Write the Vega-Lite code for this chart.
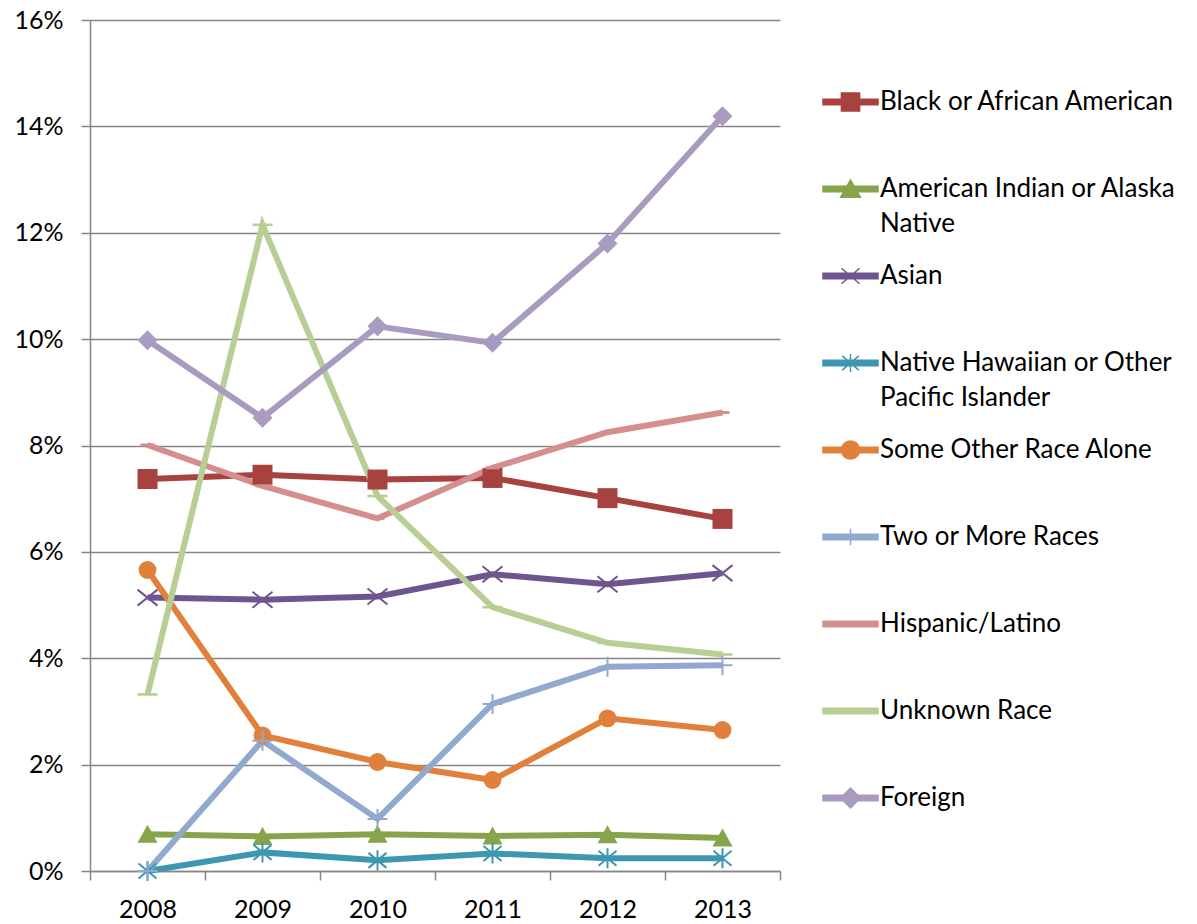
{
  "$schema": "https://vega.github.io/schema/vega-lite/v6.json",
  "autosize": "none",
  "width": 690,
  "height": 851,
  "padding": {"left": 90, "top": 20, "right": 417, "bottom": 53},
  "background": "white",
  "config": {
    "view": {"stroke": null},
    "font": "Lato",
    "axis": {"labelFont": "Lato", "labelFontSize": 25, "labelColor": "#000000", "domainColor": "#868686", "tickColor": "#868686", "gridColor": "#868686", "domainWidth": 1.5, "tickWidth": 1.5, "gridWidth": 1.5, "titleFontSize": 0}
  },
  "data": {
    "values": [
      {"year": "2008", "series": "Black or African American", "value": 0.0737},
      {"year": "2009", "series": "Black or African American", "value": 0.0745},
      {"year": "2010", "series": "Black or African American", "value": 0.0736},
      {"year": "2011", "series": "Black or African American", "value": 0.0739},
      {"year": "2012", "series": "Black or African American", "value": 0.0701},
      {"year": "2013", "series": "Black or African American", "value": 0.0662},
      {"year": "2008", "series": "American Indian or Alaska Native", "value": 0.0069},
      {"year": "2009", "series": "American Indian or Alaska Native", "value": 0.0065},
      {"year": "2010", "series": "American Indian or Alaska Native", "value": 0.0069},
      {"year": "2011", "series": "American Indian or Alaska Native", "value": 0.0066},
      {"year": "2012", "series": "American Indian or Alaska Native", "value": 0.0068},
      {"year": "2013", "series": "American Indian or Alaska Native", "value": 0.0062},
      {"year": "2008", "series": "Asian", "value": 0.0514},
      {"year": "2009", "series": "Asian", "value": 0.0510},
      {"year": "2010", "series": "Asian", "value": 0.0516},
      {"year": "2011", "series": "Asian", "value": 0.0558},
      {"year": "2012", "series": "Asian", "value": 0.0539},
      {"year": "2013", "series": "Asian", "value": 0.0560},
      {"year": "2008", "series": "Native Hawaiian or Other Pacific Islander", "value": 0.0},
      {"year": "2009", "series": "Native Hawaiian or Other Pacific Islander", "value": 0.0035},
      {"year": "2010", "series": "Native Hawaiian or Other Pacific Islander", "value": 0.0020},
      {"year": "2011", "series": "Native Hawaiian or Other Pacific Islander", "value": 0.0033},
      {"year": "2012", "series": "Native Hawaiian or Other Pacific Islander", "value": 0.0024},
      {"year": "2013", "series": "Native Hawaiian or Other Pacific Islander", "value": 0.0024},
      {"year": "2008", "series": "Some Other Race Alone", "value": 0.0566},
      {"year": "2009", "series": "Some Other Race Alone", "value": 0.0255},
      {"year": "2010", "series": "Some Other Race Alone", "value": 0.0205},
      {"year": "2011", "series": "Some Other Race Alone", "value": 0.0171},
      {"year": "2012", "series": "Some Other Race Alone", "value": 0.0287},
      {"year": "2013", "series": "Some Other Race Alone", "value": 0.0265},
      {"year": "2008", "series": "Two or More Races", "value": 0.0},
      {"year": "2009", "series": "Two or More Races", "value": 0.0245},
      {"year": "2010", "series": "Two or More Races", "value": 0.0098},
      {"year": "2011", "series": "Two or More Races", "value": 0.0314},
      {"year": "2012", "series": "Two or More Races", "value": 0.0384},
      {"year": "2013", "series": "Two or More Races", "value": 0.0387},
      {"year": "2008", "series": "Hispanic/Latino", "value": 0.0801},
      {"year": "2009", "series": "Hispanic/Latino", "value": 0.0724},
      {"year": "2010", "series": "Hispanic/Latino", "value": 0.0663},
      {"year": "2011", "series": "Hispanic/Latino", "value": 0.0758},
      {"year": "2012", "series": "Hispanic/Latino", "value": 0.0825},
      {"year": "2013", "series": "Hispanic/Latino", "value": 0.0862},
      {"year": "2008", "series": "Unknown Race", "value": 0.0332},
      {"year": "2009", "series": "Unknown Race", "value": 0.1215},
      {"year": "2010", "series": "Unknown Race", "value": 0.0705},
      {"year": "2011", "series": "Unknown Race", "value": 0.0496},
      {"year": "2012", "series": "Unknown Race", "value": 0.0429},
      {"year": "2013", "series": "Unknown Race", "value": 0.0407},
      {"year": "2008", "series": "Foreign", "value": 0.0998},
      {"year": "2009", "series": "Foreign", "value": 0.0852},
      {"year": "2010", "series": "Foreign", "value": 0.1024},
      {"year": "2011", "series": "Foreign", "value": 0.0993},
      {"year": "2012", "series": "Foreign", "value": 0.1180},
      {"year": "2013", "series": "Foreign", "value": 0.1419}
    ]
  },
  "encoding": {
    "x": {
      "field": "year", "type": "ordinal",
      "scale": {"type": "band", "paddingInner": 0, "paddingOuter": 0},
      "axis": {"title": null, "labelAngle": 0, "tickBand": "extent", "tickSize": 9, "labelPadding": 17, "labelBaseline": "top", "grid": false}
    },
    "y": {
      "field": "value", "type": "quantitative",
      "scale": {"domain": [0, 0.16], "nice": false},
      "axis": {"title": null, "values": [0, 0.02, 0.04, 0.06, 0.08, 0.1, 0.12, 0.14, 0.16], "format": ".0%", "tickSize": 9, "labelPadding": 18, "grid": true}
    },
    "color": {
      "field": "series", "type": "nominal",
      "scale": {
        "domain": ["Black or African American", "American Indian or Alaska Native", "Asian", "Native Hawaiian or Other Pacific Islander", "Some Other Race Alone", "Two or More Races", "Hispanic/Latino", "Unknown Race", "Foreign"],
        "range": ["#A7423F", "#86A44A", "#6F5590", "#3E97B0", "#E0803A", "#92A9CF", "#D48E8D", "#B7CF95", "#A99BC0"]
      },
      "legend": {
        "title": null,
        "orient": "none",
        "legendX": 732,
        "legendY": 53.5,
        "padding": 0,
        "symbolSize": 3025,
        "rowPadding": 10,
        "labelOffset": 1,
        "labelFont": "Lato",
        "labelFontSize": 26,
        "labelColor": "#000000",
        "labelLimit": 400,
        "labelExpr": "datum.label == 'American Indian or Alaska Native' ? ['American Indian or Alaska', 'Native'] : datum.label == 'Native Hawaiian or Other Pacific Islander' ? ['Native Hawaiian or Other', 'Pacific Islander'] : [datum.label, ' ']",
        "encode": {
          "labels": {"update": {"lineHeight": {"value": 35}}},
          "symbols": {
            "update": {
              "shape": {"signal": "datum.value == 'Black or African American' ? 'M-1,-0.1H1V0.1H-1ZM-0.33,-0.33H0.33V0.33H-0.33Z' : datum.value == 'American Indian or Alaska Native' ? 'M-1,-0.1H1V0.1H-1ZM0,-0.33L0.36,0.3H-0.36Z' : datum.value == 'Asian' ? 'M-1,-0.1H1V0.1H-1ZM-0.33,-0.28L0.33,0.28M-0.33,0.28L0.33,-0.28' : datum.value == 'Native Hawaiian or Other Pacific Islander' ? 'M-1,-0.1H1V0.1H-1ZM-0.3,-0.26L0.3,0.26M-0.3,0.26L0.3,-0.26M0,-0.33V0.33' : datum.value == 'Some Other Race Alone' ? 'M-1,-0.1H1V0.1H-1ZM0.33,0A0.33,0.33 0 1,1 -0.33,0A0.33,0.33 0 1,1 0.33,0Z' : datum.value == 'Two or More Races' ? 'M-1,-0.1H1V0.1H-1ZM0,-0.3V0.3' : datum.value == 'Foreign' ? 'M-1,-0.1H1V0.1H-1ZM0,-0.36L0.36,0L0,0.36L-0.36,0Z' : 'M-1,-0.1H1V0.1H-1Z'"},
              "fill": {"signal": "scale('color', datum.value)"},
              "stroke": {"signal": "scale('color', datum.value)"},
              "strokeWidth": {"value": 1.5},
              "fillOpacity": {"value": 1},
              "strokeOpacity": {"value": 1},
              "opacity": {"value": 1}
            }
          }
        }
      }
    }
  },
  "layer": [
    {
      "mark": {"type": "line", "strokeWidth": 6},
      "encoding": {}
    },
    {
      "transform": [{"filter": "datum.series == 'Black or African American'"}],
      "mark": {"type": "point", "filled": true, "opacity": 1, "shape": "M-1,-1H1V1H-1Z", "size": 400},
      "encoding": {}
    },
    {
      "transform": [{"filter": "datum.series == 'American Indian or Alaska Native'"}],
      "mark": {"type": "point", "filled": true, "opacity": 1, "shape": "M0,-0.95L1,0.85H-1Z", "size": 400},
      "encoding": {}
    },
    {
      "transform": [{"filter": "datum.series == 'Asian'"}],
      "mark": {"type": "point", "filled": false, "opacity": 1, "strokeWidth": 2, "shape": "M-1,-0.8L1,0.8M-1,0.8L1,-0.8", "size": 400},
      "encoding": {}
    },
    {
      "transform": [{"filter": "datum.series == 'Native Hawaiian or Other Pacific Islander'"}],
      "mark": {"type": "point", "filled": false, "opacity": 1, "strokeWidth": 2, "shape": "M-0.9,-0.75L0.9,0.75M-0.9,0.75L0.9,-0.75M0,-1V1", "size": 400},
      "encoding": {}
    },
    {
      "transform": [{"filter": "datum.series == 'Some Other Race Alone'"}],
      "mark": {"type": "point", "filled": true, "opacity": 1, "shape": "circle", "size": 320},
      "encoding": {}
    },
    {
      "transform": [{"filter": "datum.series == 'Two or More Races'"}],
      "mark": {"type": "point", "filled": false, "opacity": 1, "strokeWidth": 2, "shape": "M-1,0H1M0,-1V1", "size": 400},
      "encoding": {}
    },
    {
      "transform": [{"filter": "datum.series == 'Hispanic/Latino'"}],
      "mark": {"type": "point", "filled": true, "opacity": 1, "shape": "M-0.7,-0.15H0.7V0.15H-0.7Z", "size": 400},
      "encoding": {}
    },
    {
      "transform": [{"filter": "datum.series == 'Unknown Race'"}],
      "mark": {"type": "point", "filled": true, "opacity": 1, "shape": "M-1,-0.13H1V0.13H-1Z", "size": 400},
      "encoding": {}
    },
    {
      "transform": [{"filter": "datum.series == 'Foreign'"}],
      "mark": {"type": "point", "filled": true, "opacity": 1, "shape": "M0,-1L1,0L0,1L-1,0Z", "size": 400},
      "encoding": {}
    }
  ]
}
